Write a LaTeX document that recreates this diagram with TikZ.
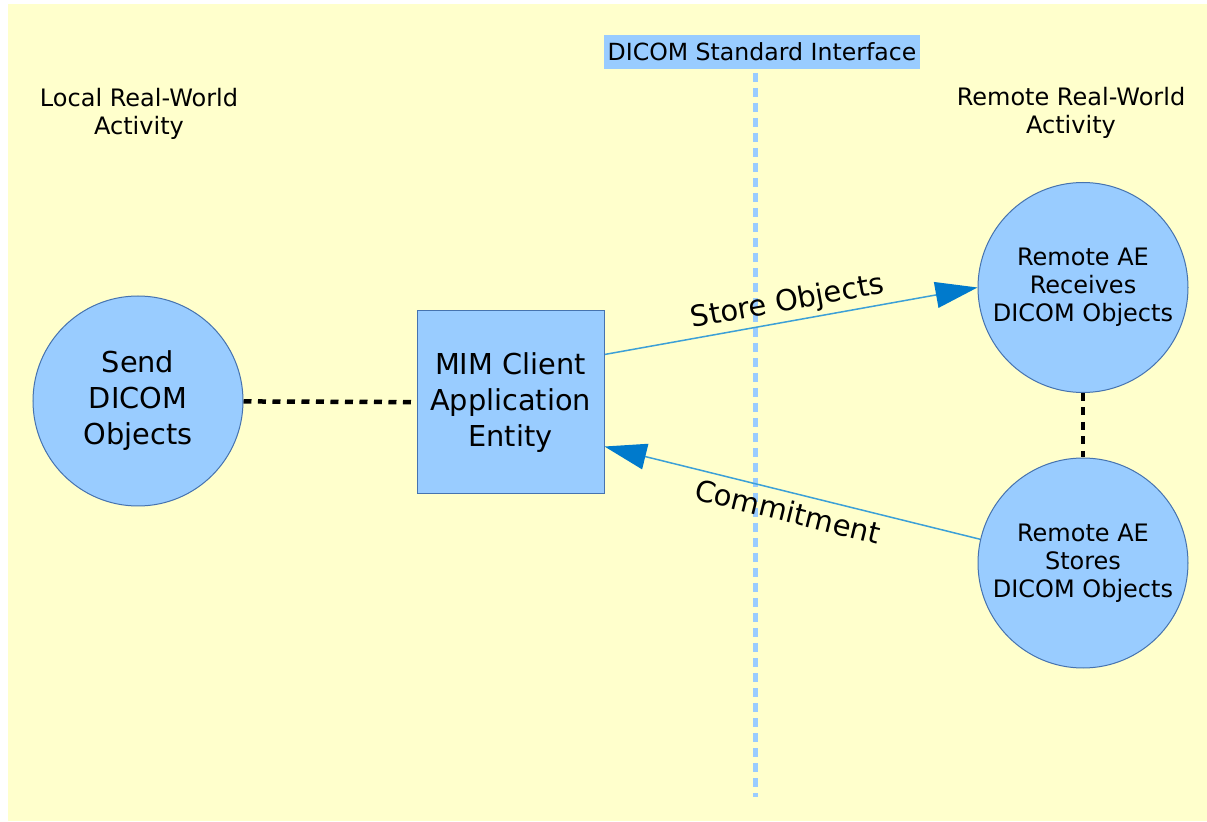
\documentclass[tikz,border=0pt]{standalone}
\usepackage{fontspec}
\setmainfont{DejaVu Sans}
\usetikzlibrary{arrows.meta}
\pgfdeclarelayer{bglayer}
\pgfdeclarelayer{edgelayer}
\pgfdeclarelayer{nodelayer}
\pgfsetlayers{bglayer,edgelayer,nodelayer,main}
\definecolor{paleyellow}{RGB}{255,255,204}
\definecolor{paleblue}{RGB}{153,204,255}
\definecolor{rimblue}{RGB}{70,115,175}
\definecolor{linkblue}{RGB}{60,160,215}
\definecolor{headblue}{RGB}{0,122,204}
\tikzstyle{none} = []
\tikzstyle{Remote Circle}=[circle, fill=paleblue, draw=rimblue, line width=0.5pt, minimum size=105pt, inner sep=0pt, align=center, font=\fontsize{12}{14}\selectfont]
\tikzstyle{Local Circle}=[Remote Circle, font=\fontsize{14.4}{18}\selectfont]
\tikzstyle{Entity Box}=[rectangle, fill=paleblue, draw=rimblue, line width=0.5pt, minimum width=93.5pt, minimum height=91.5pt, inner sep=0pt, align=center, font=\fontsize{14.4}{18}\selectfont]
\tikzstyle{Interface Label}=[rectangle, fill=paleblue, minimum width=158pt, minimum height=17pt, inner sep=0pt, font=\fontsize{11.8}{13}\selectfont]
\tikzstyle{Activity Text}=[align=center, font=\fontsize{12}{14}\selectfont]
\tikzstyle{Dashed Black}=[-, draw=black, line width=2.25pt, dash pattern=on 4pt off 3.25pt]
\tikzstyle{Dashed Blue}=[-, draw=paleblue, line width=2.5pt, dash pattern=on 4.5pt off 3pt]
\tikzstyle{Blue Arrow}=[draw=linkblue, line width=0.75pt, -{Triangle[length=21pt, width=13pt, color=headblue]}]
\tikzstyle{Link Label}=[sloped, inner sep=2pt, font=\fontsize{14.5}{16}\selectfont]

\begin{document}
\begin{tikzpicture}[x=25pt, y=25pt]
	\begin{pgfonlayer}{bglayer}
		\fill [white] (0, 0) rectangle (24.14, 16.42);
		\fill [paleyellow] (0.16, 0) rectangle (24.14, 16.34);
	\end{pgfonlayer}
	\useasboundingbox (0, 0) rectangle (24.14, 16.42);
	\begin{pgfonlayer}{nodelayer}
		\node [style=Local Circle] (0) at (2.76, 8.4) {Send\\DICOM\\Objects};
		\node [style=Entity Box] (1) at (10.21, 8.37) {MIM Client\\Application\\Entity};
		\node [style=Remote Circle] (2) at (21.66, 10.67) {Remote AE\\Receives\\DICOM Objects};
		\node [style=Remote Circle] (3) at (21.66, 5.16) {Remote AE\\Stores\\DICOM Objects};
		\node [style=Interface Label] (4) at (15.24, 15.38) {DICOM Standard Interface};
		\node [style=none] (5) at (15.1, 14.96) {};
		\node [style=none] (6) at (15.1, 0.48) {};
		\node [style=Activity Text] (7) at (2.78, 14.15) {Local Real-World\\Activity};
		\node [style=Activity Text] (8) at (21.42, 14.17) {Remote Real-World\\Activity};
	\end{pgfonlayer}
	\begin{pgfonlayer}{edgelayer}
		\draw [style=Dashed Blue] (5.center) to (6.center);
		\draw [style=Dashed Black] (0) to (1);
		\draw [style=Dashed Black] (2) to (3);
		\draw [style=Blue Arrow] ([yshift=24pt]1.east) to node [style=Link Label, above] {Store Objects} (2.west);
		\draw [style=Blue Arrow] (3.167) to node [style=Link Label, below, inner sep=3.5pt] {Commitment} ([yshift=-22pt]1.east);
	\end{pgfonlayer}
\end{tikzpicture}
\end{document}
